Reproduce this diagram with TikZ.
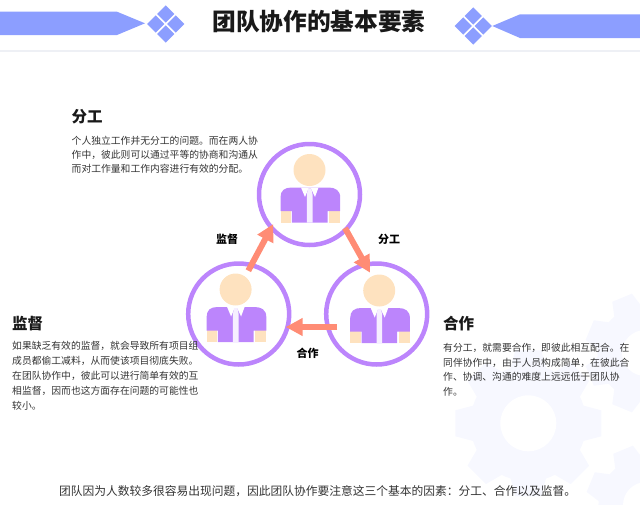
\documentclass[tikz,border=0pt]{standalone}
\usepackage{fontspec}
\usepackage{xcolor}
\usetikzlibrary{positioning, arrows.meta}
\setmainfont{Noto Sans CJK SC}

\definecolor{ringpurple}{HTML}{BC85FC}
\definecolor{skincream}{HTML}{FEE2BF}
\definecolor{bannerblue}{HTML}{8C9EFF}
\definecolor{arrowsalmon}{HTML}{FF8C75}
\definecolor{gearpale}{HTML}{F7F8FF}
\definecolor{tiepale}{HTML}{F6EFFF}
\definecolor{ruleline}{HTML}{EEF0F5}
\definecolor{bodytext}{HTML}{333333}

\tikzset{
    member/.style={circle, draw=ringpurple, line width=4.5pt, inner sep=0pt, minimum size=101pt},
    flow/.style={-{Triangle[width=17pt, length=17pt]}, draw=arrowsalmon, line width=6pt},
    flowlabel/.style={inner sep=0pt, font=\fontsize{11}{13}\selectfont\bfseries, text=black},
    heading/.style={anchor=west, inner sep=0pt, font=\fontsize{15.5}{18}\selectfont\bfseries, text=black!90},
    para/.style={anchor=north west, inner sep=0pt, align=left, text=bodytext, font=\fontsize{9.8}{14.25}\selectfont},
    person/.pic={
        \fill[skincream] (0, -24.5) circle (16);
        \fill[skincream] (-29, 15) rectangle (-18.7, 28);
        \fill[skincream] (19.7, 15) rectangle (30.7, 28);
        \fill[ringpurple] (-29, 16.5) -- (-29, 3) .. controls (-29, -4) and (-25, -7) .. (-18, -7) -- (19, -7) .. controls (26, -7) and (30.7, -4) .. (30.7, 3) -- (30.7, 16.5) -- (18, 16.5) -- (18, 28) -- (-17.7, 28) -- (-17.7, 16.5) -- cycle;
        \fill[white] (-8.5, -7) -- (-4.5, 2.5) -- (-1, -6) -- (1.5, -6) -- (5.5, 2.5) -- (9, -7) -- cycle;
        \fill[tiepale] (-1.5, -6) -- (1.8, -6) -- (3, 0) -- (3, 28) -- (-2.7, 28) -- (-2.7, 0) -- cycle;
    },
    tiles/.pic={
        \foreach \dx/\dy in {-10/0, 10/0, 0/-10, 0/10}
            \fill[bannerblue] (\dx-8.6, \dy) -- (\dx, \dy-8.6) -- (\dx+8.6, \dy) -- (\dx, \dy+8.6) -- cycle;
    },
    gear/.pic={
        \fill[gearpale] (0, 0) circle (58);
        \foreach \toothangle in {0, 45, ..., 315}
            \fill[gearpale, rotate=\toothangle] (54, -18) -- (73, -13) -- (73, 13) -- (54, 18) -- cycle;
        \fill[white] (0, 0) circle (28);
    }
}

\begin{document}
\begin{tikzpicture}[x=1pt, y=-1pt]
    \useasboundingbox (0, 0) rectangle (640, 504);

    % background gears
    \pic at (528.3, 423.3) {gear};
    \pic[rotate=22.5, scale=0.82] at (645, 353) {gear};
    \pic[rotate=22.5, scale=0.82] at (646, 505) {gear};

    % header
    \fill[bannerblue] (0, 11.7) -- (117, 11.7) -- (145, 23.3) -- (117, 35) -- (0, 35) -- cycle;
    \fill[bannerblue] (640, 14.3) -- (520, 14.3) -- (492.3, 26) -- (520, 38) -- (640, 38) -- cycle;
    \pic at (165.7, 24) {tiles};
    \pic at (473.3, 26) {tiles};
    \fill[ruleline] (0, 49.5) rectangle (640, 51.5);
    \node[inner sep=0pt, font=\fontsize{23.7}{26}\selectfont\bfseries, text=black!90] (title) at (319, 22) {团队协作的基本要素};

    % team members
    \node[member] (top) at (309.5, 194.5) {};
    \node[member] (left) at (238.7, 314) {};
    \node[member] (right) at (376.7, 314) {};
    \pic at (top) {person};
    \pic at (235.6, 314) {person};
    \pic at (379.2, 315) {person};

    % connectors
    \coordinate (topout) at (345, 228);
    \coordinate (rightin) at (370, 272.7);
    \coordinate (rightout) at (337.3, 327);
    \coordinate (leftin) at (285.7, 327);
    \coordinate (leftout) at (248.3, 270.7);
    \coordinate (topin) at (273.3, 224);
    \draw[flow] (topout) -- node[flowlabel, xshift=31.5pt, yshift=11pt] (lblsplit) {分工} (rightin);
    \draw[flow] (rightout) -- node[flowlabel, xshift=-3.8pt, yshift=-26pt] (lblcoop) {合作} (leftin);
    \draw[flow] (leftout) -- node[flowlabel, xshift=-33.8pt, yshift=8pt] (lblwatch) {监督} (topin);

    % text blocks
    \node[heading] (splithead) at (71.5, 117) {分工};
    \node[para] (splittext) at (71.5, 136) {个人独立工作并无分工的问题。而在两人协\\作中，彼此则可以通过平等的协商和沟通从\\而对工作量和工作内容进行有效的分配。};
    \node[heading] (watchhead) at (12, 324) {监督};
    \node[para, font=\fontsize{9.8}{15}\selectfont] (watchtext) at (12, 341.5) {如果缺乏有效的监督，就会导致所有项目组\\成员都偷工减料，从而使该项目彻底失败。\\在团队协作中，彼此可以进行简单有效的互\\相监督，因而也这方面存在问题的可能性也\\较小。};
    \node[heading] (coophead) at (443, 324) {合作};
    \node[para, font=\fontsize{9.8}{14.6}\selectfont] (cooptext) at (443, 343) {有分工，就需要合作，即彼此相互配合。在\\同伴协作中，由于人员构成简单，在彼此合\\作、协调、沟通的难度上远远低于团队协\\作。};
    \node[anchor=west, inner sep=0pt, text=bodytext, font=\fontsize{11.75}{14}\selectfont] (footer) at (59, 491) {团队因为人数较多很容易出现问题，因此团队协作要注意这三个基本的因素：分工、合作以及监督。};
\end{tikzpicture}
\end{document}
